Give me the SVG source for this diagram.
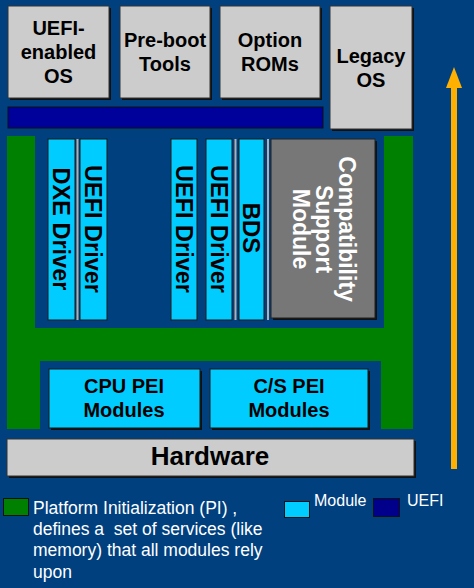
<svg xmlns="http://www.w3.org/2000/svg" width="474" height="588" viewBox="0 0 474 588">
<defs>
<style>
.bg{fill:#00407f}
.gbox{fill:#cccccc;stroke:#333333;stroke-width:1}
.shadow{fill:#111111}
.cyan{fill:#00ccff;stroke:#1a1a1a;stroke-width:1}
.sep{stroke:#b0b0b0;stroke-width:2}
.lbl{font-family:"Liberation Sans",Arial,sans-serif;font-weight:bold;fill:#000;text-anchor:middle}
.leg{font-family:"Liberation Sans",Arial,sans-serif;fill:#ffffff}
</style>
</defs>
<rect class="bg" x="0" y="0" width="474" height="588"/>

<g id="pi-green">
<path d="M7,136 H35 V328 H384 V136 H413 V429 H381 V361 H40 V429 H7 Z" fill="#008000"/>
</g>

<g id="uefi-enabled-os">
<rect class="shadow" x="10" y="8" width="101" height="92"/>
<rect class="gbox" x="8" y="6" width="101" height="92"/>
<text class="lbl" font-size="20" x="58.5" y="35">UEFI-</text>
<text class="lbl" font-size="20" x="58.5" y="59">enabled</text>
<text class="lbl" font-size="20" x="58.5" y="83">OS</text>
</g>
<g id="preboot-tools">
<rect class="shadow" x="122" y="8" width="90" height="92"/>
<rect class="gbox" x="120" y="6" width="90" height="92"/>
<text class="lbl" font-size="20" x="165" y="47">Pre-boot</text>
<text class="lbl" font-size="20" x="165" y="71">Tools</text>
</g>
<g id="option-roms">
<rect class="shadow" x="222" y="8" width="100" height="92"/>
<rect class="gbox" x="220" y="6" width="100" height="92"/>
<text class="lbl" font-size="20" x="270" y="47">Option</text>
<text class="lbl" font-size="20" x="270" y="71">ROMs</text>
</g>
<g id="legacy-os">
<rect class="shadow" x="332" y="8" width="82" height="123"/>
<rect class="gbox" x="330" y="6" width="82" height="123"/>
<text class="lbl" font-size="20" x="371" y="63">Legacy</text>
<text class="lbl" font-size="20" x="371" y="87">OS</text>
</g>
<g id="uefi-bar">
<rect x="8" y="107" width="315" height="21" fill="#00009a" stroke="#111111" stroke-width="1"/>
</g>

<g id="separators">
<line class="sep" x1="77.5" y1="139" x2="77.5" y2="320"/>
<line class="sep" x1="235.5" y1="139" x2="235.5" y2="320"/>
<line class="sep" x1="268" y1="139" x2="268" y2="320"/>
</g>

<g id="dxe-driver">
<rect class="cyan" x="48" y="139" width="27" height="181"/>
<text class="lbl" font-size="23.5" transform="translate(52.5,229) rotate(90)">DXE Driver</text>
</g>
<g id="uefi-driver-1">
<rect class="cyan" x="80" y="139" width="27" height="181"/>
<text class="lbl" font-size="23.5" transform="translate(85,229) rotate(90)">UEFI Driver</text>
</g>
<g id="uefi-driver-2">
<rect class="cyan" x="171" y="139" width="26" height="181"/>
<text class="lbl" font-size="23.5" transform="translate(175.5,229) rotate(90)">UEFI Driver</text>
</g>
<g id="uefi-driver-3">
<rect class="cyan" x="206" y="139" width="26" height="181"/>
<text class="lbl" font-size="23.5" transform="translate(210.5,229) rotate(90)">UEFI Driver</text>
</g>
<g id="bds">
<rect class="cyan" x="239" y="139" width="25" height="181"/>
<text class="lbl" font-size="24" transform="translate(243,228) rotate(90)">BDS</text>
</g>
<g id="csm">
<rect x="273" y="141" width="104" height="179" fill="#111111"/>
<rect x="271" y="139" width="104" height="179" fill="#777777" stroke="#222222" stroke-width="1"/>
<text class="lbl" font-size="23" fill="#ffffff" style="fill:#ffffff" transform="translate(339,229) rotate(90)">Compatibility</text>
<text class="lbl" font-size="23" style="fill:#ffffff" transform="translate(316,229) rotate(90)">Support</text>
<text class="lbl" font-size="23" style="fill:#ffffff" transform="translate(293,229) rotate(90)">Module</text>
</g>

<g id="cpu-pei">
<rect class="shadow" x="51" y="371" width="151" height="59"/>
<rect class="cyan" x="49" y="369" width="151" height="59"/>
<text class="lbl" font-size="20" x="124" y="393">CPU PEI</text>
<text class="lbl" font-size="20" x="124" y="417">Modules</text>
</g>
<g id="cs-pei">
<rect class="shadow" x="212" y="371" width="158" height="59"/>
<rect class="cyan" x="210" y="369" width="158" height="59"/>
<text class="lbl" font-size="20" x="289" y="393">C/S PEI</text>
<text class="lbl" font-size="20" x="289" y="417">Modules</text>
</g>
<g id="hardware">
<rect class="shadow" x="9" y="441" width="407" height="37"/>
<rect class="gbox" x="7" y="439" width="407" height="37"/>
<text class="lbl" font-size="26" x="210" y="465">Hardware</text>
</g>

<g id="connectors">
<rect x="451" y="86" width="6" height="383" fill="#ffb000"/>
<polygon points="446,88 454,67 462,88" fill="#ffb000"/>
</g>

<g id="legend">
<rect x="3.5" y="498.5" width="25" height="17" fill="#008000" stroke="#111111" stroke-width="1"/>
<text class="leg" font-size="17.5" x="33" y="514">Platform Initialization (PI) ,</text>
<text class="leg" font-size="17.5" x="33" y="535" xml:space="preserve" style="white-space:pre">defines a  set of services (like</text>
<text class="leg" font-size="17.5" x="33" y="556">memory) that all modules rely</text>
<text class="leg" font-size="17.5" x="33" y="578">upon</text>
<rect x="284.5" y="501.5" width="25" height="16" fill="#00ccff" stroke="#111111" stroke-width="1"/>
<text class="leg" font-size="16" x="314" y="506">Module</text>
<rect x="373.5" y="498.5" width="26" height="18" fill="#00008b" stroke="#111111" stroke-width="1"/>
<text class="leg" font-size="16" x="407" y="506">UEFI</text>
</g>
</svg>
